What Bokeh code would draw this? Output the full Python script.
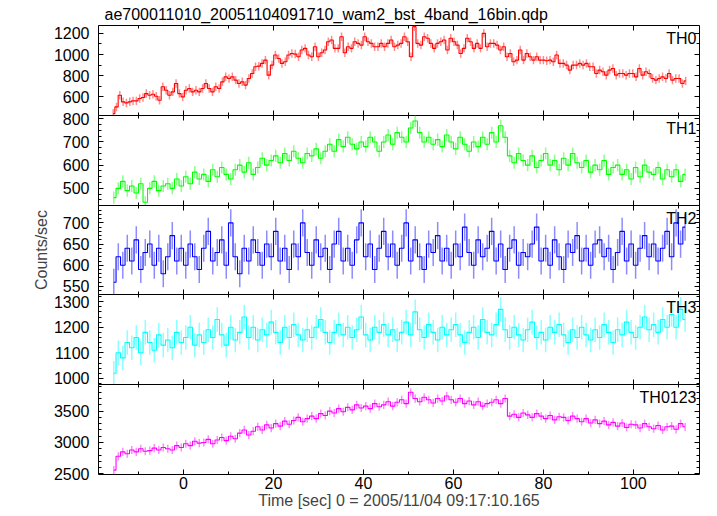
import numpy as np
from bokeh.plotting import figure
from bokeh.models import ColumnDataSource, LinearAxis, SingleIntervalTicker, Range1d, Label, Grid, Title
from bokeh.layouts import column
from bokeh.embed import file_html
from bokeh.resources import INLINE

# ---------------- data ----------------
title_text = "ae700011010_20051104091710_wam2_bst_4band_16bin.qdp"
x_label = "Time [sec] 0 = 2005/11/04 09:17:10.165"
y_label = "Counts/sec"
t_start, t_stop = -16.0, 112.0

band_names = ["TH0", "TH1", "TH2", "TH3", "TH0123"]

th0 = [442, 505, 615, 553, 543, 553, 562, 562, 584, 594, 631, 615, 625, 606, 568, 695, 663, 615, 647, 726,
       631, 600, 663, 679, 647, 663, 647, 679, 726, 679, 647, 695, 679, 742, 789, 774, 789, 758, 726, 742,
       711, 774, 821, 884, 890, 916, 947, 805, 900, 995, 963, 916, 932, 995, 1010, 1004, 979,
       1042, 1058, 995, 979, 1074, 979, 1017, 1042, 1121, 1137, 1058, 1058, 1168, 1017, 1074, 1058, 1121,
       1105, 1089, 1168, 1121, 1105, 1074, 1074, 1105, 1074, 1105, 1137, 1074, 1089, 1105, 1168, 1121, 979,
       1263, 1105, 1089, 1168, 1153, 1105, 1058, 1105, 1121, 1137, 1042, 1153, 1121, 1089, 1010, 1058, 1153,
       1121, 1058, 1105, 1058, 1200, 1074, 1105,
       1105, 1089, 1042, 1074, 979, 1010, 932, 947, 1042, 947, 1010, 979, 947, 979, 947, 947, 941, 947, 932,
       995, 916, 916, 900, 853, 900, 900, 916, 900, 916, 884, 884, 821, 853, 837, 805, 853, 868, 805, 821,
       821, 805, 821, 821, 789, 868, 805, 837, 821, 774, 758, 774, 789, 774, 821, 758, 774, 774, 726, 751]
th1 = [460, 500, 530, 490, 510, 480, 520, 440, 500, 530, 490, 510, 520, 500, 540, 510,
       550, 520, 570, 540, 560, 530, 580, 550, 590, 560, 540, 580, 600, 570, 610, 560,
       590, 630, 600, 620, 640, 610, 650, 620, 660, 630, 610, 650, 640, 670, 630, 660,
       690, 660, 710, 680, 720, 690, 670, 700, 680, 720, 700, 660, 700, 730, 690, 740,
       720, 700, 760, 790, 740, 700, 720, 690, 710, 680, 730, 700, 670, 720, 690, 660,
       700, 680, 720, 690, 740, 700, 770, 720, 640, 610, 650, 620, 600, 640, 590, 620,
       650, 600, 620, 580, 630, 600, 650, 610, 590, 620, 570, 600, 580, 620, 560, 590,
       600, 560, 580, 540, 590, 550, 600, 570, 560, 590, 540, 580, 550, 580, 530, 560]
th2 = [560, 620, 600, 640, 610, 660, 590, 630, 650, 600, 640, 580, 620, 670, 610, 640,
       600, 650, 620, 590, 640, 680, 610, 630, 660, 600, 700, 620, 580, 640, 610, 660,
       630, 600, 650, 620, 680, 610, 640, 590, 650, 620, 700, 630, 600, 660, 620, 640,
       590, 650, 680, 610, 640, 600, 660, 700, 620, 650, 590, 640, 680, 620, 650, 600,
       640, 700, 610, 660, 620, 590, 650, 630, 670, 610, 640, 600, 650, 620, 690, 630,
       600, 660, 620, 640, 680, 610, 650, 590, 640, 660, 600, 630, 620, 650, 690, 610,
       640, 600, 660, 620, 590, 650, 630, 670, 610, 640, 600, 650, 660, 620, 640, 590,
       630, 680, 610, 650, 600, 640, 670, 620, 650, 610, 640, 680, 620, 700, 650, 690]
th3 = [1020, 1100, 1080, 1140, 1120, 1160, 1100, 1180, 1140, 1110, 1170, 1130, 1150, 1120, 1180, 1140,
       1160, 1200, 1130, 1170, 1140, 1190, 1160, 1230, 1170, 1130, 1200, 1150, 1180, 1240, 1160, 1200,
       1150, 1190, 1170, 1220, 1180, 1140, 1200, 1160, 1210, 1170, 1150, 1190, 1160, 1200, 1230, 1180,
       1140, 1180, 1210, 1170, 1200, 1160, 1190, 1240, 1170, 1150, 1200, 1180, 1210, 1170, 1190, 1150,
       1180, 1220, 1170, 1260, 1190, 1160, 1210, 1180, 1150, 1200, 1170, 1190, 1210, 1170, 1140, 1180,
       1200, 1160, 1230, 1180, 1170, 1210, 1270, 1190, 1160, 1200, 1170, 1150, 1190, 1220, 1160, 1180,
       1150, 1200, 1180, 1210, 1170, 1140, 1190, 1160, 1200, 1170, 1150, 1190, 1160, 1210, 1180, 1140,
       1190, 1170, 1220, 1180, 1160, 1200, 1240, 1190, 1210, 1180, 1230, 1200, 1250, 1200, 1270, 1230]
th0123 = [2560, 2780, 2850, 2820, 2880, 2850, 2900, 2860, 2870, 2910, 2880, 2920, 2900, 2880, 2950, 2920,
          2980, 2950, 3020, 2990, 3000, 3050, 2980, 3040, 3080, 3030, 3100, 3060, 3150, 3200, 3120, 3180,
          3250, 3200, 3280, 3230, 3300, 3260, 3340, 3290, 3350, 3400, 3330, 3380, 3420, 3380, 3460, 3430,
          3500, 3470, 3540, 3490, 3560, 3520, 3600, 3550, 3580, 3540, 3620, 3570, 3600, 3650, 3580, 3640,
          3680, 3620, 3800, 3700, 3650, 3720, 3680, 3630, 3700, 3660, 3740, 3680, 3640, 3700, 3620, 3660,
          3600, 3650, 3580, 3620, 3640, 3680, 3620, 3700, 3420, 3450, 3400, 3470, 3440, 3400, 3460, 3420,
          3380, 3430, 3360, 3410, 3400, 3350, 3420, 3380, 3330, 3380, 3310, 3360, 3300, 3340, 3280, 3320,
          3260, 3310, 3240, 3290, 3280, 3230, 3300, 3250, 3220, 3270, 3200, 3250, 3260, 3210, 3300, 3250]
band_rates = [th0, th1, th2, th3, th0123]
band_errors = [40, 26, 32, 48, 65]

# ---------------- styles / layout ----------------
band_colors = ["#ff0000", "#00ff00", "#0000ff", "#00ffff", "#ff00ff"]
x_view = (-18.9, 114.7)
y_views = [(424, 1274), (426, 814), (531, 741), (976, 1328), (2490, 3924)]
y_major = [200, 100, 50, 100, 500]
y_minor = [2, 4, 5, 5, 5]
frame_heights = [90, 90, 89, 90, 90]
FONT = "Liberation Sans"
FS = "16px"
FW = 605
M = 10  # overlapping border so that tick labels on panel edges are not cut


def style_axis(ax, show_labels, standoff=9):
    ax.axis_line_color = None
    ax.major_tick_in = 5
    ax.major_tick_out = 0
    ax.minor_tick_in = 3
    ax.minor_tick_out = 0
    ax.major_tick_line_color = "black"
    ax.minor_tick_line_color = "black"
    if show_labels:
        ax.major_label_text_font = FONT
        ax.major_label_text_font_size = FS
        ax.major_label_text_color = "black"
        ax.major_label_standoff = standoff
    else:
        ax.major_label_text_color = None
        ax.major_label_text_font_size = "1px"
        ax.major_label_standoff = 0


figs = []
nb = len(band_names)
for i in range(nb):
    fh = frame_heights[i]
    first, last = i == 0, i == nb - 1
    p = figure(frame_width=FW, frame_height=fh, title=None,
               x_range=Range1d(*x_view), y_range=Range1d(*y_views[i]),
               output_backend="svg", toolbar_location=None,
               x_axis_location=None, y_axis_location=None,
               min_border_left=98, min_border_right=2,
               min_border_top=0 if first else M,
               min_border_bottom=0 if last else M,
               margin=(1 if first else -2 * M, -4, -16 if last else 0, 0))
    p.outline_line_color = "black"
    p.outline_line_width = 1
    p.outline_line_alpha = 1
    p.background_fill_color = "white"
    p.border_fill_color = None
    for r in p.center:
        if isinstance(r, Grid):
            r.visible = False

    xt = SingleIntervalTicker(interval=20, num_minor_ticks=2)
    yt = SingleIntervalTicker(interval=y_major[i], num_minor_ticks=y_minor[i])

    left = LinearAxis(ticker=yt)
    style_axis(left, True, 9)
    right = LinearAxis(ticker=yt)
    style_axis(right, False)
    top = LinearAxis(ticker=xt)
    style_axis(top, False)
    bottom = LinearAxis(ticker=xt)
    style_axis(bottom, last, 2)
    if last:
        bottom.axis_label = x_label
        bottom.axis_label_text_font = FONT
        bottom.axis_label_text_font_size = FS
        bottom.axis_label_text_font_style = "normal"
        bottom.axis_label_standoff = 0
    if i == 2:
        left.axis_label = y_label
        left.axis_label_text_font = FONT
        left.axis_label_text_font_size = FS
        left.axis_label_text_font_style = "normal"
        left.axis_label_standoff = 10
    p.add_layout(left, "left")
    p.add_layout(right, "right")
    p.add_layout(top, "above")
    p.add_layout(bottom, "below")

    if first:
        p.add_layout(Title(text=title_text, align="left", text_font=FONT, text_font_size=FS,
                           text_font_style="normal", text_color="black",
                           standoff=5, offset=6), "above")

    y = np.array(band_rates[i], dtype=float)
    n = len(y)
    bw = (t_stop - t_start) / n
    t = t_start + bw * (np.arange(n) + 0.5)
    e = band_errors[i]
    src = ColumnDataSource(dict(t=t, y=y, lo=y - e, hi=y + e))
    p.segment(x0="t", y0="lo", x1="t", y1="hi", source=src,
              line_color=band_colors[i], line_alpha=0.45, line_width=1.5)
    p.step(x="t", y="y", source=src, mode="center",
           line_color=band_colors[i], line_width=1.1)

    p.add_layout(Label(x=FW - 7, y=fh - 4, x_units="screen", y_units="screen",
                       text=band_names[i], text_align="right", text_baseline="top",
                       text_font=FONT, text_font_size=FS, text_color="black"))
    figs.append(p)

layout = column(*figs, spacing=0)
open("out.html", "w").write(file_html(layout, INLINE))
